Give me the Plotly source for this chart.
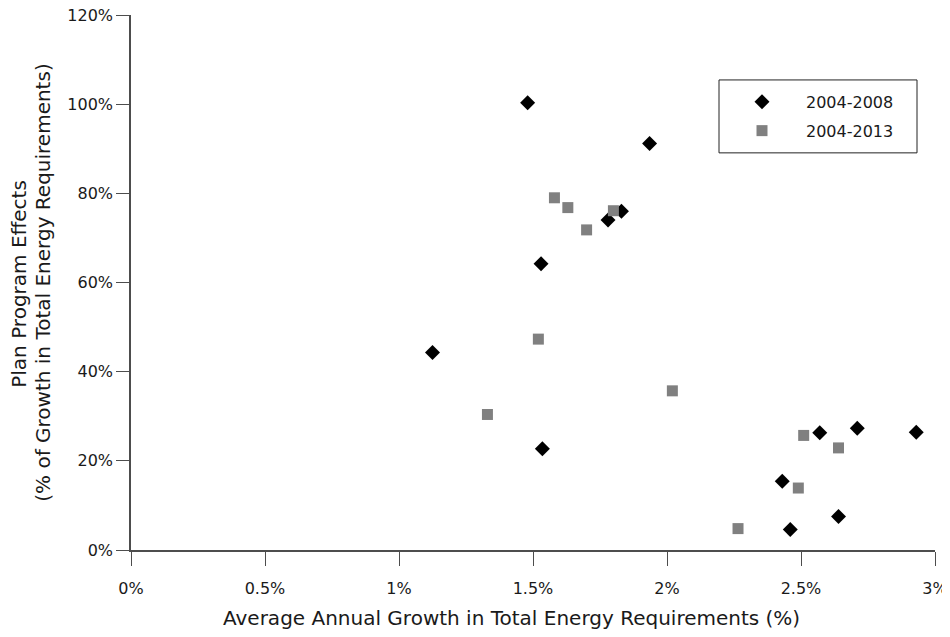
import plotly.graph_objects as go

# 2004-2008 series (black diamonds)
x_0408 = [1.48, 1.935, 1.83, 1.78, 1.53, 1.125, 1.535, 2.57, 2.71, 2.93, 2.43, 2.64, 2.46]
y_0408 = [100.3, 91.2, 76.0, 74.0, 64.2, 44.3, 22.7, 26.3, 27.3, 26.4, 15.4, 7.5, 4.6]

# 2004-2013 series (grey squares)
x_0413 = [1.58, 1.63, 1.80, 1.70, 1.52, 1.33, 2.02, 2.51, 2.64, 2.49, 2.265]
y_0413 = [79.0, 76.8, 76.1, 71.8, 47.3, 30.4, 35.7, 25.7, 22.9, 13.9, 4.8]

x_ticks = [0, 0.5, 1, 1.5, 2, 2.5, 3]
x_tick_labels = ["0%", "0.5%", "1%", "1.5%", "2%", "2.5%", "3%"]
y_ticks = [0, 20, 40, 60, 80, 100, 120]
y_tick_labels = ["0%", "20%", "40%", "60%", "80%", "100%", "120%"]

FONT = "Tahoma, DejaVu Sans, sans-serif"
TXT = "#1a1a1a"
AX = "#4d4d4d"

# page has an 8px body margin: figure is shifted by 8px on screen
OFF = 8
PL, PT, PW, PH = 131, 15, 804, 535.5  # plot area in screen pixels
FIG_W, FIG_H = 950 - OFF, 637 - 2 * OFF


def px(sx):
    return (sx - PL) / PW


def py(sy):
    return (PT + PH - sy) / PH


fig = go.Figure()
fig.add_trace(go.Scatter(
    x=x_0408, y=y_0408, mode="markers", name="2004-2008",
    marker=dict(symbol="diamond", size=11.5, color="#000000", line=dict(width=0)),
    legendgroup="a",
))
fig.add_trace(go.Scatter(
    x=x_0413, y=y_0413, mode="markers", name="2004-2013",
    marker=dict(symbol="square", size=11, color="#808080", line=dict(width=0)),
    legendgroup="b",
))

fig.update_layout(
    width=FIG_W, height=FIG_H,
    margin=dict(l=PL - OFF, r=FIG_W - (PL - OFF) - PW, t=PT - OFF,
                b=FIG_H - (PT - OFF) - PH, autoexpand=False),
    paper_bgcolor="white", plot_bgcolor="white",
    font=dict(family=FONT, size=16, color=TXT),
    showlegend=True,
    legend=dict(
        x=px(718), y=py(85), xanchor="left", yanchor="top",
        borderwidth=0, bgcolor="rgba(0,0,0,0)",
        font=dict(family=FONT, size=16, color=TXT),
        itemwidth=78, tracegroupgap=5, traceorder="grouped",
    ),
    shapes=[
        dict(type="rect", xref="paper", yref="paper",
             x0=px(719), x1=px(917), y0=py(153), y1=py(80),
             line=dict(color="#222222", width=1), fillcolor="white", layer="below"),
    ],
    xaxis=dict(
        range=[0, 3], tickvals=x_ticks, ticktext=x_tick_labels, automargin=False,
        showgrid=False, zeroline=False, showline=True, linecolor=AX, linewidth=1.5,
        ticks="outside", ticklen=14, tickcolor=AX, tickwidth=1,
        ticklabelstandoff=9, ticklabeloverflow="allow",
        tickfont=dict(family=FONT, size=16, color=TXT),
    ),
    yaxis=dict(
        range=[0, 120], tickvals=y_ticks, ticktext=y_tick_labels, automargin=False,
        showgrid=False, zeroline=False, showline=True, linecolor=AX, linewidth=1.5,
        ticks="outside", ticklen=13, tickcolor=AX, tickwidth=1,
        ticklabeloverflow="allow",
        tickfont=dict(family=FONT, size=16, color=TXT),
    ),
    annotations=[
        dict(text="Average Annual Growth in Total Energy Requirements (%)",
             xref="paper", yref="paper", x=px(511), y=py(619),
             xanchor="center", yanchor="middle", showarrow=False,
             font=dict(family=FONT, size=20, color=TXT)),
        dict(text="Plan Program Effects",
             xref="paper", yref="paper", x=px(19), y=py(284),
             xanchor="center", yanchor="middle", showarrow=False, textangle=-90,
             font=dict(family=FONT, size=20, color=TXT)),
        dict(text="(% of Growth in Total Energy Requirements)",
             xref="paper", yref="paper", x=px(43), y=py(283),
             xanchor="center", yanchor="middle", showarrow=False, textangle=-90,
             font=dict(family=FONT, size=20, color=TXT)),
    ],
)

fig.write_html("out.html")
